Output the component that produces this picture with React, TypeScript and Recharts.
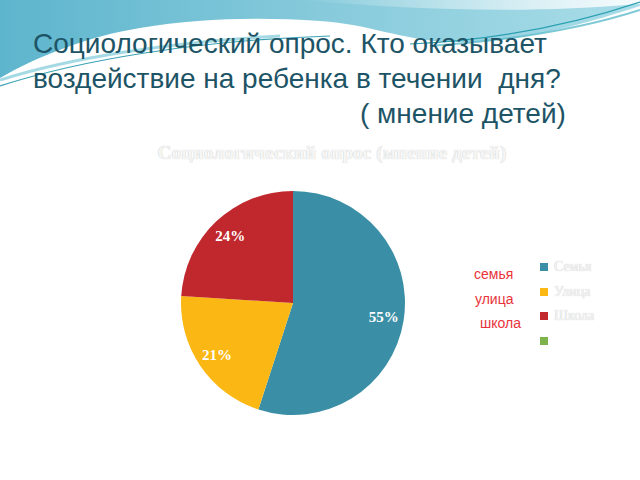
import { PieChart, Pie, Cell, Legend } from "recharts";

// данные опроса (мнение детей)
const categories = ["Семья", "Улица", "Школа", ""];
const shares = [55, 21, 24, 0];
const sliceColors = ["#3a8fa6", "#fbb713", "#c0282e", "#7eb24a"];
const handLabels = ["семья", "улица", "школа"];

const titleLines = [
  "Социологический опрос. Кто оказывает",
  "воздействие на ребенка в течении  дня?",
];
const subTitle = "( мнение детей)";
const chartTitle = "Социологический опрос (мнение детей)";

const rows = categories.map((name, i) => ({ name, value: shares[i] }));

const RAD = Math.PI / 180;

function PctLabel(props: any) {
  const { cx, cy, midAngle, outerRadius, value } = props;
  if (!value) return null;
  const r = outerRadius * 0.82;
  const x = cx + r * Math.cos(-midAngle * RAD);
  const y = cy + r * Math.sin(-midAngle * RAD);
  return (
    <text
      x={x}
      y={y}
      fill="#ffffff"
      textAnchor="middle"
      dominantBaseline="central"
      fontFamily="'Liberation Serif', 'DejaVu Serif', serif"
      fontSize={15}
      fontWeight="bold"
    >
      {value}%
    </text>
  );
}

function LegendBox(props: any) {
  // порядок как в данных, а не по алфавиту
  const payload = (props.payload ?? [])
    .slice()
    .sort(
      (a: any, b: any) =>
        categories.indexOf(a.value) - categories.indexOf(b.value)
    );
  return (
    <div style={{ position: "relative" }}>
      {payload.map((p: any, i: number) => (
        <div
          key={i}
          style={{ display: "flex", alignItems: "center", height: 24.5 }}
        >
          <span
            style={{
              width: 8,
              height: 8,
              background: p.color,
              display: "inline-block",
              marginRight: 6,
            }}
          />
          <span
            style={{
              fontFamily: "'Liberation Serif', serif",
              fontSize: 14,
              color: "#f4f4f4",
              textShadow: "0 0 1px #bdbdbd",
            }}
          >
            {p.value}
          </span>
        </div>
      ))}
    </div>
  );
}

export default function App() {
  return (
    <div
      style={{
        position: "absolute",
        left: 0,
        top: 0,
        width: 640,
        height: 480,
        background: "#ffffff",
        overflow: "hidden",
      }}
    >
      {/* волна сверху */}
      <svg
        width={640}
        height={140}
        style={{ position: "absolute", left: 0, top: 0 }}
      >
        <defs>
          <linearGradient id="wave" x1="0" y1="0" x2="1" y2="0">
            <stop offset="0" stopColor="#5db5cd" />
            <stop offset="0.5" stopColor="#86cadb" />
            <stop offset="1" stopColor="#a9dde8" />
          </linearGradient>
          <linearGradient id="hl" x1="0" y1="0" x2="1" y2="0">
            <stop offset="0" stopColor="#ffffff" stopOpacity="0" />
            <stop offset="1" stopColor="#ffffff" stopOpacity="0.9" />
          </linearGradient>
        </defs>
        <path
          d="M0,0 L640,0 L640,6 C590,22 520,44 450,42 C400,40 370,24 320,21 C260,17 200,18 140,28 C90,36 40,55 0,78 Z"
          fill="url(#wave)"
        />
        <path
          d="M300,0 C420,10 520,14 640,4 L640,0 Z"
          fill="url(#hl)"
        />
        <path
          d="M0,86 C80,60 200,40 330,36"
          stroke="#3aa3b6"
          strokeWidth={1.2}
          fill="none"
        />
        <path
          d="M0,80 C70,58 170,42 280,36"
          stroke="#7fcad8"
          strokeWidth={3}
          fill="none"
          opacity={0.7}
        />
        <path
          d="M410,44 C500,40 580,22 640,2"
          stroke="#2a9fb2"
          strokeWidth={1.2}
          fill="none"
        />
        <path
          d="M430,46 C520,40 590,26 640,10"
          stroke="#5fbccc"
          strokeWidth={2}
          fill="none"
          opacity={0.8}
        />
      </svg>

      {/* заголовок слайда */}
      <div
        style={{
          position: "absolute",
          left: 33,
          top: 26,
          fontFamily: "'Liberation Sans', Arial, sans-serif",
          fontSize: 28,
          lineHeight: "35px",
          color: "#1d5466",
          whiteSpace: "pre",
        }}
      >
        {titleLines.map((t, i) => (
          <div key={i}>{t}</div>
        ))}
        <div style={{ paddingLeft: 327 }}>{subTitle}</div>
      </div>

      {/* название диаграммы */}
      <div
        style={{
          position: "absolute",
          left: 0,
          width: 664,
          top: 142,
          textAlign: "center",
          fontFamily: "'Liberation Serif', serif",
          fontSize: 19.5,
          fontWeight: "bold",
          color: "#f6f6f6",
          textShadow: "0 0 1px #b8b8b8",
        }}
      >
        {chartTitle}
      </div>

      <div style={{ position: "absolute", left: 0, top: 0 }}>
        <PieChart width={640} height={480} margin={{ top: 0, right: 0, bottom: 0, left: 0 }}>
          <Pie
            data={rows}
            dataKey="value"
            nameKey="name"
            cx={293}
            cy={303}
            outerRadius={112}
            startAngle={90}
            endAngle={-270}
            stroke="none"
            label={PctLabel}
            labelLine={false}
            isAnimationActive={false}
          >
            {rows.map((_, i) => (
              <Cell key={i} fill={sliceColors[i]} />
            ))}
          </Pie>
          <Legend
            layout="vertical"
            content={LegendBox}
            wrapperStyle={{ left: 540, top: 255, width: 90 }}
          />
        </PieChart>
      </div>

      {/* подписи красным поверх легенды */}
      <div
        style={{
          position: "absolute",
          left: 474,
          top: 262,
          fontFamily: "'Liberation Sans', Arial, sans-serif",
          fontSize: 14,
          lineHeight: "24.5px",
          color: "#e8333a",
        }}
      >
        {handLabels.map((t, i) => (
          <div key={i} style={{ paddingLeft: i === 2 ? 6 : i === 1 ? 1 : 0 }}>
            {t}
          </div>
        ))}
      </div>
    </div>
  );
}
